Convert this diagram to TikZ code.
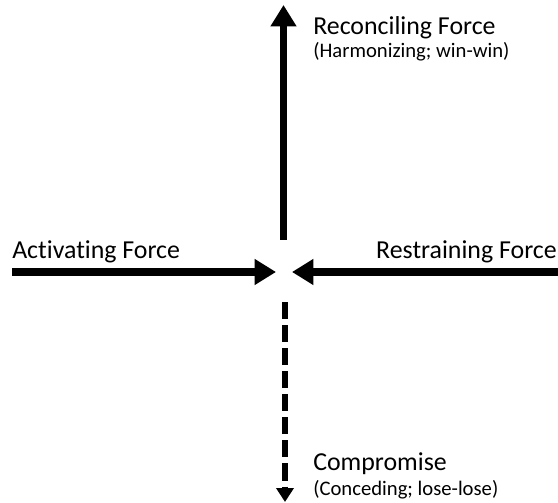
\documentclass[tikz,border=0pt]{standalone}
\usepackage{fontspec}
\setmainfont{Carlito}[Ligatures=NoCommon]
\usetikzlibrary{arrows.meta,positioning}

\begin{document}
\begin{tikzpicture}[x=0.75pt,y=-0.75pt,
    force/.style={line width=5.3pt,-{Triangle[length=16pt,width=18.5pt]}},
    weakforce/.style={line width=4.6pt,dash pattern=on 12.8pt off 4.5pt,-{Triangle[length=10.5pt,width=12.8pt]}},
    title/.style={inner sep=0pt,anchor=base west,font=\fontsize{19.4pt}{23pt}\selectfont},
    note/.style={inner sep=0pt,anchor=base west,font=\fontsize{15.5pt}{18pt}\selectfont}]
    \useasboundingbox (0,0) rectangle (558,503);
    % arrow ends
    \coordinate (up-start) at (283.5,240);
    \coordinate (up-end) at (283.5,5);
    \coordinate (act-start) at (12,272);
    \coordinate (act-end) at (276,272);
    \coordinate (res-start) at (558,272);
    \coordinate (res-end) at (292,272);
    \coordinate (down-start) at (285,302);
    \coordinate (down-end) at (285,502);
    \draw[force] (up-start) -- (up-end);
    \draw[force] (act-start) -- (act-end);
    \draw[force] (res-start) -- (res-end);
    \draw[weakforce] (down-start) -- (down-end);
    % labels
    \node[title] (reconcile) at (313,35) {Reconciling Force};
    \node[note] (reconcile-note) at (313,58) {(Harmonizing; win-win)};
    \node[title] (activate) at (12,258) {Activating Force};
    \node[title,anchor=base east] (restrain) at (557,258) {Restraining Force};
    \node[title] (compromise) at (313,470) {Compromise};
    \node[note] (compromise-note) at (313,495) {(Conceding; lose-lose)};
\end{tikzpicture}
\end{document}
